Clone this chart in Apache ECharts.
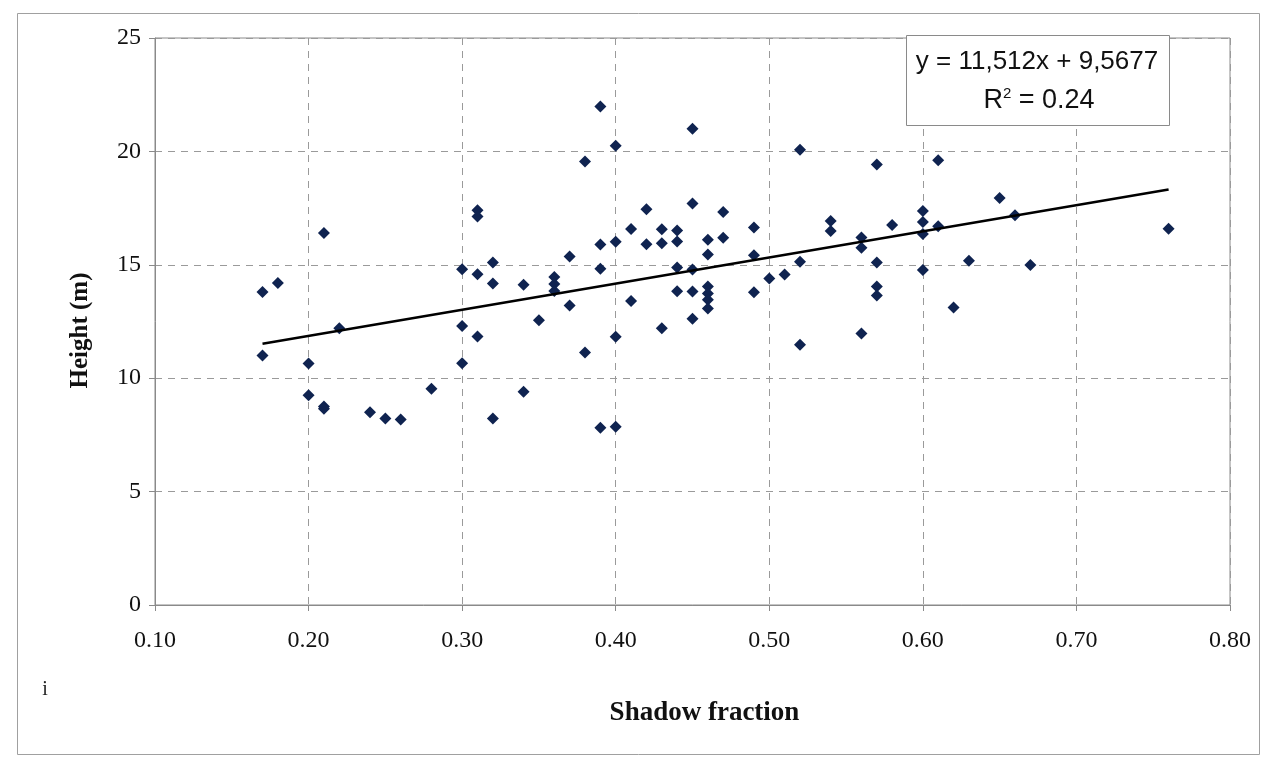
<!DOCTYPE html>
<html>
<head>
<meta charset="utf-8">
<script src="https://cdn.jsdelivr.net/npm/echarts@6/dist/echarts.min.js"></script>
<style>
html,body{margin:0;padding:0;background:#fff;}
#chart{width:1262px;height:761px;}
</style>
</head>
<body>
<div id="chart"></div>
<script>
// Shadow fraction (x) and tree height in m (y)
const shadowFraction = [
  0.17,0.17,0.18,0.20,0.20,0.21,0.21,0.21,0.22,0.24,0.25,0.26,0.28,
  0.30,0.30,0.30,0.31,0.31,0.31,0.31,0.32,0.32,0.32,0.34,0.34,0.35,
  0.36,0.36,0.36,0.37,0.37,0.38,0.38,0.39,0.39,0.39,0.39,
  0.40,0.40,0.40,0.40,0.41,0.41,0.42,0.42,0.43,0.43,0.43,
  0.44,0.44,0.44,0.44,0.45,0.45,0.45,0.45,0.45,
  0.46,0.46,0.46,0.46,0.46,0.46,0.47,0.47,0.49,0.49,0.49,
  0.50,0.51,0.52,0.52,0.52,0.54,0.54,0.56,0.56,0.56,
  0.57,0.57,0.57,0.57,0.58,0.60,0.60,0.60,0.60,0.61,0.61,
  0.62,0.63,0.65,0.66,0.67,0.76
];
const heightM = [
  13.8,11.0,14.2,10.65,9.25,16.4,8.75,8.65,12.2,8.5,8.22,8.18,9.53,
  14.8,12.3,10.66,17.4,17.13,14.58,11.84,15.1,14.18,8.22,14.12,9.4,12.56,
  14.46,14.15,13.84,15.37,13.21,19.55,11.13,21.98,15.89,14.83,7.81,
  20.25,16.02,11.83,7.86,13.4,16.58,17.45,15.91,16.57,15.95,12.2,
  16.51,16.03,14.88,13.83,21.0,17.7,14.79,13.82,12.62,
  16.11,15.45,14.04,13.73,13.46,13.07,17.33,16.19,16.65,15.42,13.79,
  14.4,14.57,20.07,15.13,11.47,16.93,16.49,16.2,15.75,11.97,
  19.42,15.1,14.04,13.65,16.76,17.37,16.89,16.36,14.77,19.61,16.7,
  13.12,15.18,17.95,17.19,14.99,16.59
];
// Linear trend line end points as drawn
const trendX = [0.17, 0.76];
const trendY = [11.52, 18.32];
const xTicks = [0.1,0.2,0.3,0.4,0.5,0.6,0.7,0.8];
const yTicks = [0,5,10,15,20,25];
const xAxisName = 'Shadow fraction';
const yAxisName = 'Height (m)';
const eqLine1 = 'y = 11,512x + 9,5677';
const eqLine2 = 'R{sup|2} = 0.24';

const points = shadowFraction.map((x,i)=>[x,heightM[i]]);
const trend = trendX.map((x,i)=>[x,trendY[i]]);

const chart = echarts.init(document.getElementById('chart'), null, {renderer:'canvas'});
const serif = '"Liberation Serif","Times New Roman",serif';
const sans = '"Liberation Sans",Arial,sans-serif';
const gridColor = '#9a9a9a';

chart.setOption({
  animation:false,
  backgroundColor:'#fff',
  grid:{left:155, right:32, top:38, bottom:156, show:true, borderColor:'#8a8a8a', borderWidth:1},
  xAxis:{
    type:'value', min:xTicks[0], max:xTicks[xTicks.length-1], interval:0.1,
    name:xAxisName, nameLocation:'middle', nameGap:95,
    nameTextStyle:{fontFamily:serif, fontWeight:'bold', fontSize:27, color:'#111', padding:[0,0,0,24]},
    axisLine:{show:true, onZero:false, lineStyle:{color:'#8a8a8a', width:1}},
    axisTick:{show:true, length:6, lineStyle:{color:'#8a8a8a'}},
    axisLabel:{fontFamily:serif, fontSize:24, color:'#111', margin:24,
      formatter:v=>v.toFixed(2)},
    splitLine:{show:true, lineStyle:{color:gridColor, type:[7,6], width:1}}
  },
  yAxis:{
    type:'value', min:yTicks[0], max:yTicks[yTicks.length-1], interval:5,
    name:yAxisName, nameLocation:'middle', nameGap:62, nameRotate:90,
    nameTextStyle:{fontFamily:serif, fontWeight:'bold', fontSize:25, color:'#111', padding:[0,18,0,0]},
    axisLine:{show:true, lineStyle:{color:'#8a8a8a', width:1}},
    axisTick:{show:true, length:6, lineStyle:{color:'#8a8a8a'}},
    axisLabel:{fontFamily:serif, fontSize:24, color:'#111', margin:14},
    splitLine:{show:true, lineStyle:{color:gridColor, type:[7,6], width:1}}
  },
  series:[
    {type:'scatter', data:points, symbol:'diamond', symbolSize:12,
      itemStyle:{color:'#0f2350', opacity:1}, z:3},
    {type:'line', data:trend, symbol:'none', lineStyle:{color:'#000', width:2.6}, z:4}
  ],
  graphic:[
    {type:'rect', left:15, top:11, shape:{width:1242, height:741},
      style:{fill:'none', stroke:'#a0a0a0', lineWidth:1}, z:-1},
    {type:'rect', left:906, top:35, shape:{width:263, height:90},
      style:{fill:'#fff', stroke:'#8a8a8a', lineWidth:1}, z:10},
    {type:'text', x:1037, y:62, style:{text:eqLine1, font:'26px '+sans, fill:'#111', align:'center', verticalAlign:'middle'}, z:11},
    {type:'text', x:1039, y:101, style:{text:eqLine2, font:'27px '+sans, fill:'#111', align:'center', verticalAlign:'middle',
      rich:{sup:{fontSize:15, verticalAlign:'top', padding:[0,0,14,0], fontFamily:sans, fill:'#111'}}}, z:11},
    {type:'text', x:45, y:690, style:{text:'i', font:'20px '+serif, fill:'#222', align:'center', verticalAlign:'middle'}}
  ]
});
</script>
</body>
</html>
